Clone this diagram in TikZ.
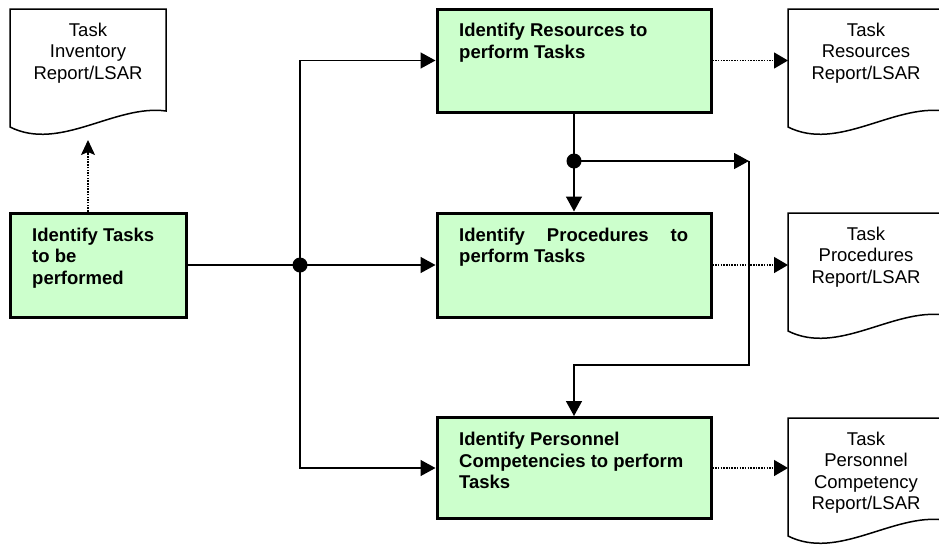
\documentclass[tikz,border=0pt]{standalone}
\usepackage{fontspec}
\setmainfont{Liberation Sans}
\usetikzlibrary{arrows.meta,calc}
\definecolor{boxgreen}{HTML}{CCFFCC}
\tikzset{
  stepbox/.style={draw=black, line width=3pt, fill=boxgreen, minimum width=274pt, minimum height=104pt, inner sep=0pt},
  boxtext/.style={anchor=north west, inner sep=0pt, align=left, font=\fontsize{18.5pt}{21.5pt}\selectfont\bfseries},
  doctext/.style={anchor=north, inner sep=0pt, align=center, font=\fontsize{18.5pt}{21.5pt}\selectfont},
  docline/.style={line width=1.5pt, fill=white},
  flow/.style={line width=1.5pt, -{Triangle[length=15pt,width=16pt]}},
  plain/.style={line width=1.5pt},
  dotflow/.style={line width=1.4pt, dash pattern=on 1.5pt off 1.2pt, -{Triangle[length=14pt,width=16pt]}},
  upflow/.style={line width=1.4pt, dash pattern=on 1.5pt off 1.2pt, -{Stealth[length=15pt,width=14pt,inset=3pt]}},
  junction/.style={circle, fill=black, minimum size=15pt, inner sep=0pt},
}
% report page with a wavy lower edge: name, top-left corner, text
\newcommand\docpage[3]{%
  \coordinate (#1) at (#2);
  \draw[docline] (#1) -- ($(#1)+(156,0)$) -- ($(#1)+(156,102)$)
    .. controls ($(#1)+(105,95)$) and ($(#1)+(50,143)$) .. ($(#1)+(0,118)$) -- cycle;
  \node[doctext] (#1-t) at ($(#1)+(78,13.5)$) {#3};
}
\begin{document}
\begin{tikzpicture}[x=1pt,y=-1pt]
\useasboundingbox (0,0) rectangle (939,544);
\clip (0,0) rectangle (939,544);

% reports
\docpage{invdoc}{10,9}{Task\\Inventory\\Report/LSAR}
\docpage{resdoc}{788,9}{Task\\Resources\\Report/LSAR}
\docpage{procdoc}{788,213}{Task\\Procedures\\Report/LSAR}
\docpage{persdoc}{788,418}{Task\\Personnel\\Competency\\Report/LSAR}

% process steps
\node[stepbox, minimum width=176pt] (tasks) at (98,265) {};
\node[boxtext] (tasks-t) at ($(tasks.north west)+(23.5,16)$) {Identify Tasks\\to be\\performed};

\node[stepbox, minimum height=103pt] (res) at (574,60.5) {};
\node[boxtext] (res-t) at ($(res.north west)+(23.5,15.5)$) {Identify Resources to\\perform Tasks};

\node[stepbox] (proc) at (574,265) {};
\node[boxtext] (proc-t) at ($(proc.north west)+(23.5,16)$) {\hbox to 229pt{Identify\hfil Procedures\hfil to}\\perform Tasks};

\node[stepbox, minimum height=101pt] (pers) at (574,468) {};
\node[boxtext] (pers-t) at ($(pers.north west)+(23.5,16)$) {Identify Personnel\\Competencies to perform\\Tasks};

% junctions and bends
\node[junction] (j1) at (300,265) {};
\node[junction] (j2) at (574,161) {};
\coordinate (k1) at (749,161);
\coordinate (k2) at (749,365);
\coordinate (invtip) at (88,140);

% solid flows
\draw[flow] (tasks.east) -- (proc.west);
\draw[flow] (j1.center) |- (res.west);
\draw[flow] (j1.center) |- (pers.west);
\draw[plain] (res.south) -- (j2.center);
\draw[flow] (j2.center) -- (proc.north);
\draw[flow] (j2.center) -- (k1);
\draw[flow] (k1) -- (k2) -| (pers.north);

% dotted outputs to reports
\draw[upflow] (invtip |- tasks.north) -- (invtip);
\draw[dotflow] (res.east) -- (res.east -| resdoc);
\draw[dotflow] (proc.east) -- (proc.east -| procdoc);
\draw[dotflow] (pers.east) -- (pers.east -| persdoc);
\end{tikzpicture}
\end{document}
